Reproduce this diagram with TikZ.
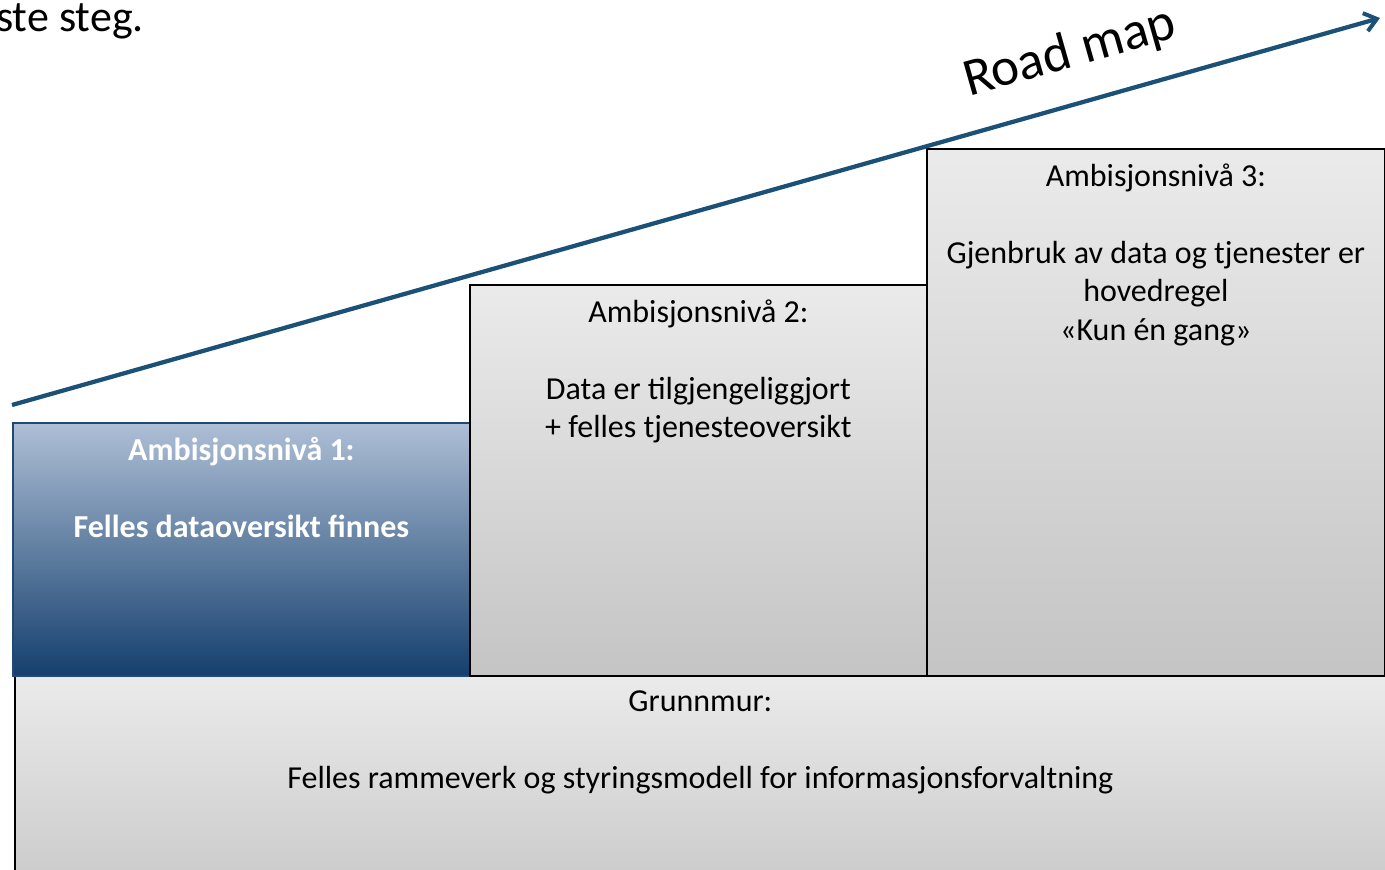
\documentclass[tikz,border=0pt]{standalone}
\usepackage{fontspec}
\setmainfont{Carlito}
\usetikzlibrary{positioning,arrows.meta}
\definecolor{roadblue}{HTML}{1B5077}
\definecolor{lvltop}{HTML}{AEBFD6}
\definecolor{lvlmid}{HTML}{8A9CB6}
\definecolor{lvlbot}{HTML}{143F6D}
\definecolor{lvlline}{HTML}{1E4A75}
\begin{document}
\begin{tikzpicture}[x=0.75pt,y=-0.75pt,
	level/.style={draw=black,line width=1.3pt,anchor=north west,inner sep=0pt,top color=black!8,bottom color=black!23},
	blue level/.style={level,draw=lvlline,top color=lvltop,middle color=lvlmid,bottom color=lvlbot},
	txt/.style={align=center,anchor=north,inner sep=0pt,font=\fontsize{24}{28.9}\selectfont},
	]
	\clip (0,0) rectangle (1385,870);
	% steps
	\node [level,minimum width=1371*0.75pt,minimum height=250*0.75pt] (base) at (14,675) {};
	\node [blue level,minimum width=457*0.75pt,minimum height=253*0.75pt] (lvl1) at (12,422) {};
	\node [level,minimum width=457*0.75pt,minimum height=391*0.75pt] (lvl2) at (469,284) {};
	\node [level,minimum width=458*0.75pt,minimum height=527*0.75pt] (lvl3) at (926,148) {};
	% texts
	\node [txt,text=white,font=\fontsize{24}{28.9}\selectfont\bfseries,below=11.5pt of lvl1.north] (t1) {Ambisjonsnivå 1:\\[28.9pt]Felles dataoversikt finnes};
	\node [txt,below=11.5pt of lvl2.north] (t2) {Ambisjonsnivå 2:\\[28.9pt]Data er tilgjengeliggjort\\+ felles tjenesteoversikt};
	\node [txt,below=11.5pt of lvl3.north] (t3) {Ambisjonsnivå 3:\\[28.9pt]Gjenbruk av data og tjenester er\\hovedregel\\«Kun én gang»};
	\node [txt,below=11.5pt of base.north] (t0) {Grunnmur:\\[28.9pt]Felles rammeverk og styringsmodell for informasjonsforvaltning};
	% road map
	\coordinate (start) at (12,405);
	\coordinate (end) at (1380,18);
	\draw [roadblue,line width=3.2pt,-{Straight Barb[length=9pt,width=14pt,line width=3pt]}] (start) -- (end);
	\node [rotate=15.8,font=\fontsize{40}{48}\selectfont] (road) at (1070,53) {Road map};
	\node [anchor=base west,inner sep=0pt,font=\fontsize{33}{40}\selectfont] (steg) at (-4,32) {ste steg.};
\end{tikzpicture}
\end{document}
